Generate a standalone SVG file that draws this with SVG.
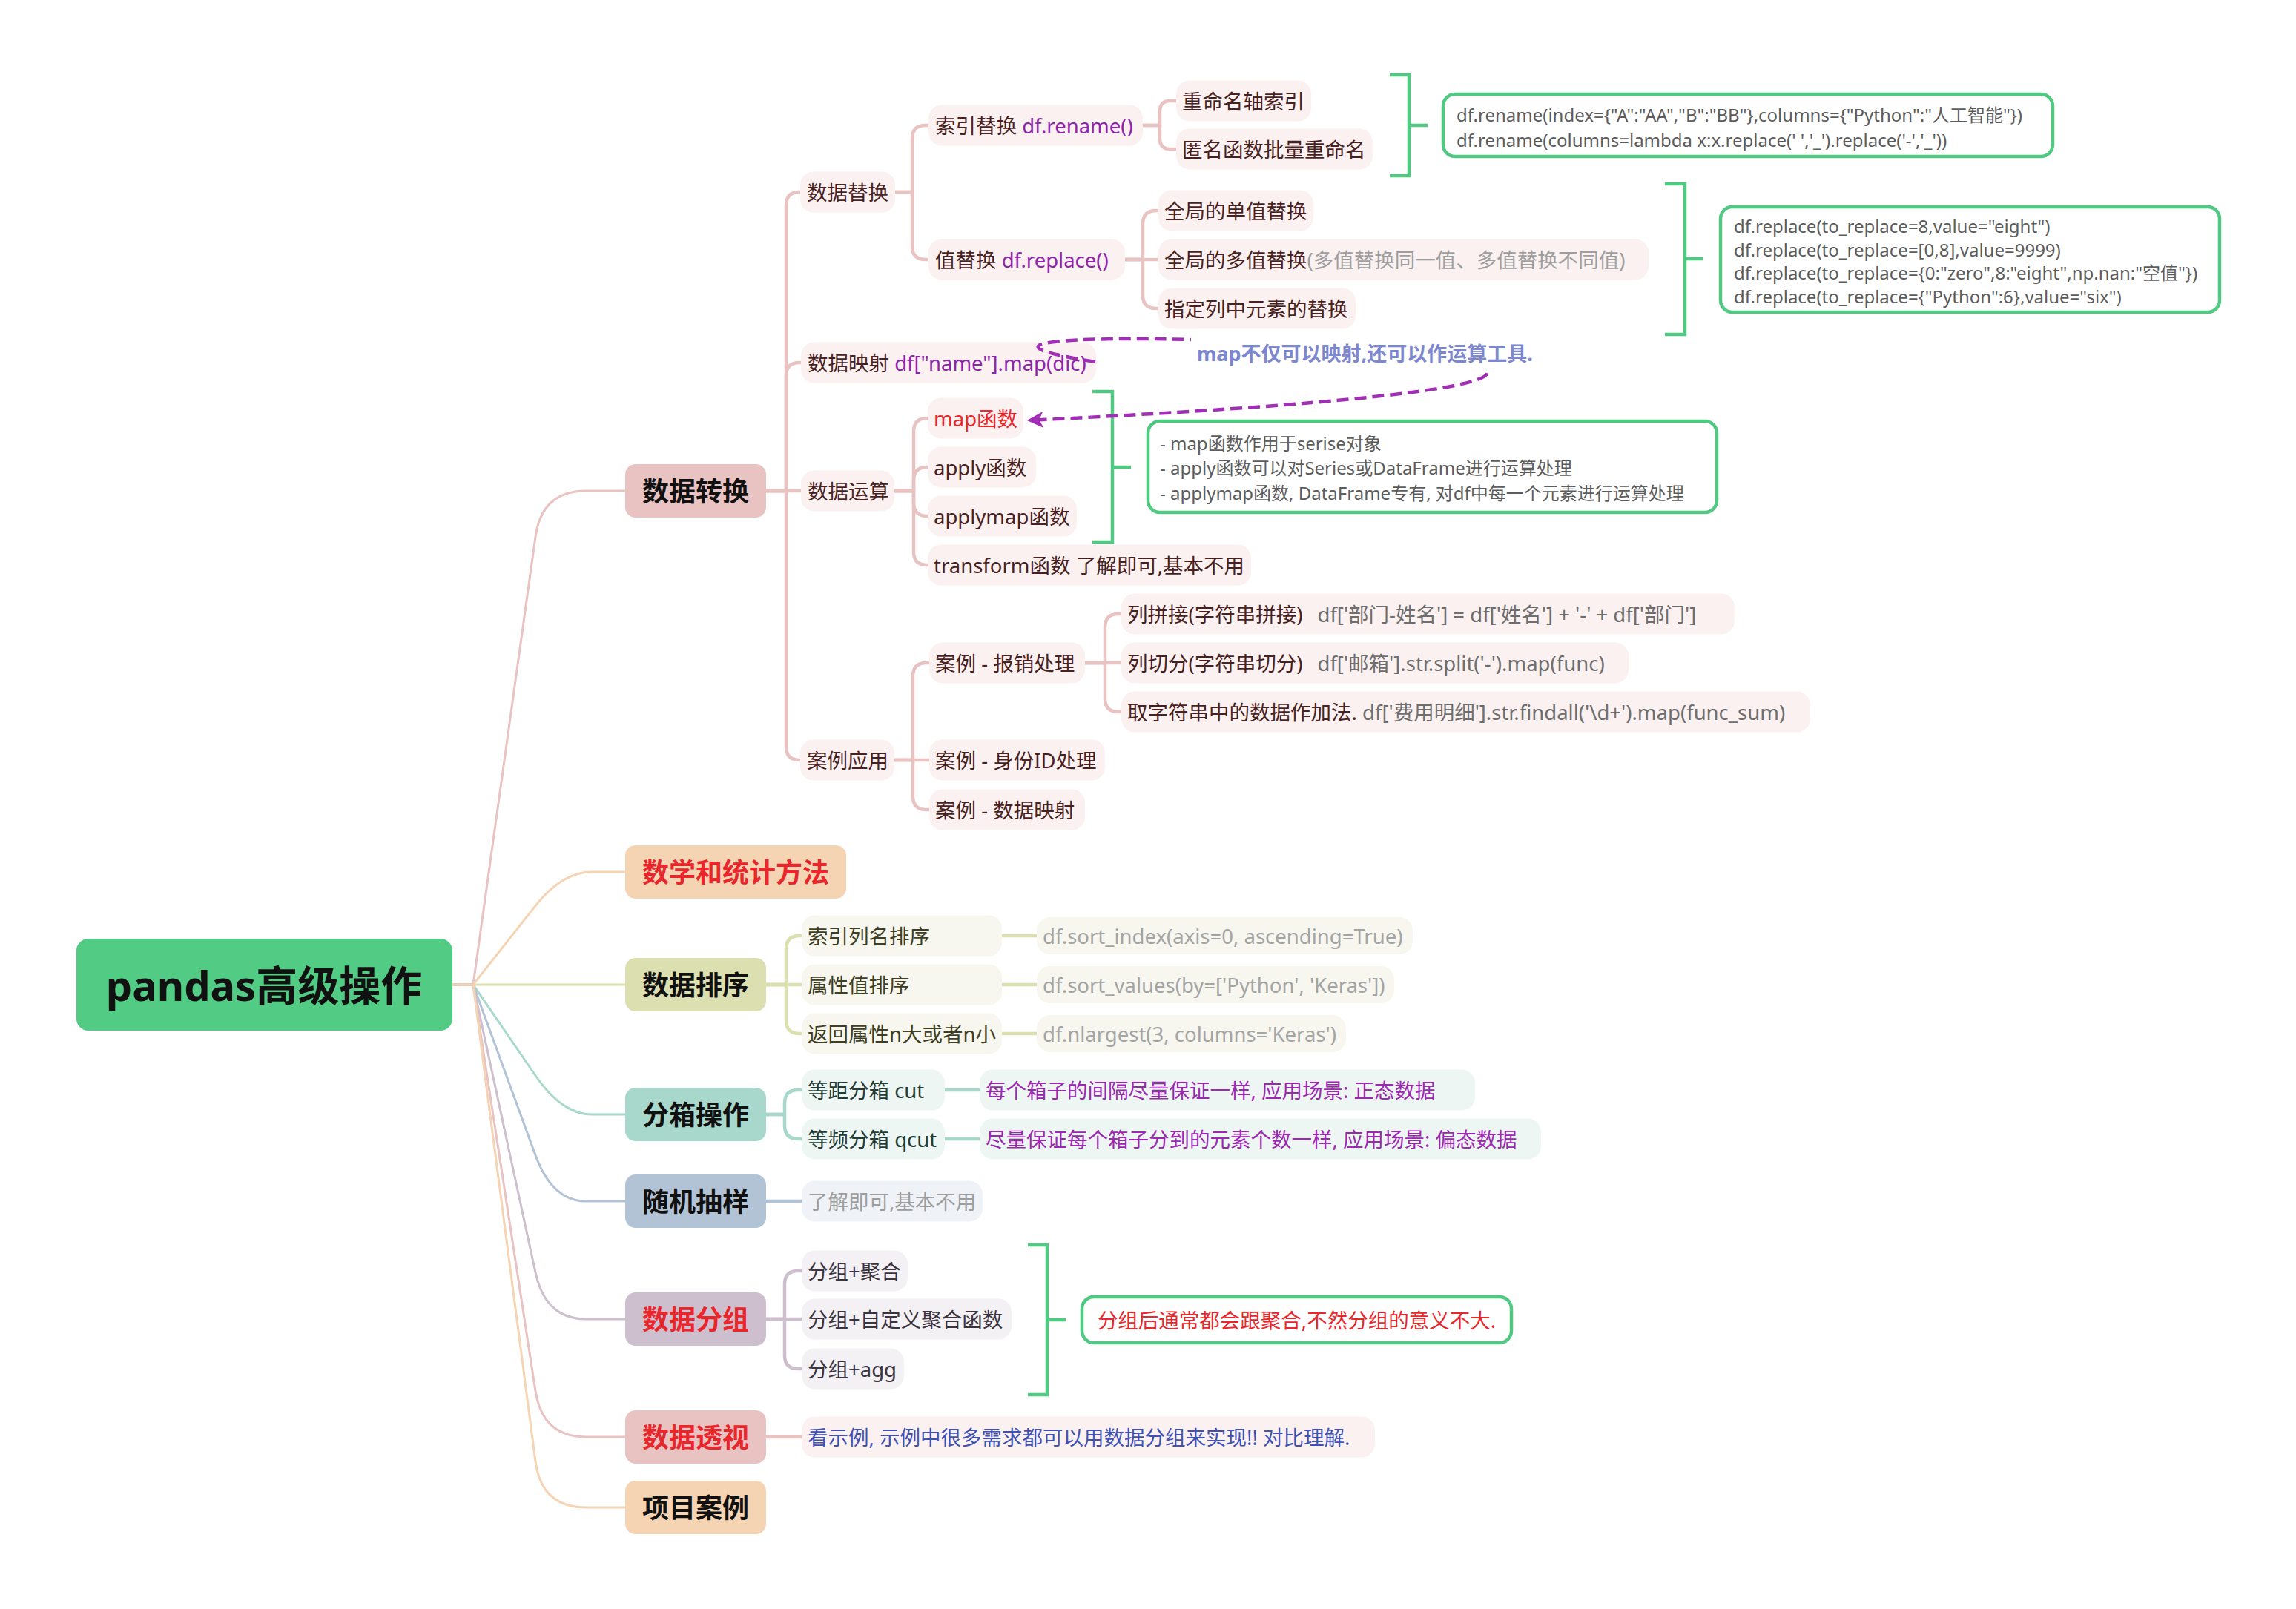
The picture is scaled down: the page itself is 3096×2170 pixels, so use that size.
<svg xmlns="http://www.w3.org/2000/svg" width="3096" height="2170" viewBox="0 0 3096 2170">
<defs>
<style>
text { font-family: "Noto Sans", "Noto Sans CJK SC", sans-serif; dominant-baseline: central; }
.root { font-size: 56px; font-weight: bold; fill: #111; text-anchor: middle; }
.l1 { font-size: 36px; font-weight: bold; fill: #111; text-anchor: middle; }
.red { fill: #E8262B; }
.t { font-size: 27.5px; }
.c { font-size: 24px; fill: #5C5C5C; }
.tp { fill: #4A1F1F; }
.to { fill: #3E3E22; }
.tt { fill: #1F3C35; }
.tl { fill: #3B3340; }
.gray { fill: #9E9E9E; }
.code { fill: #A4A4A4; }
.dk { fill: #6E6E6E; }
.pur { fill: #8E24AA; }
.mag { fill: #9C27B0; }
.blue { fill: #3F51B5; }
.bp { fill: #FAF1F0; }
.bo { fill: #F7F7EF; }
.bt { fill: #EEF6F4; }
.bb { fill: #EFF2F7; }
.bl { fill: #F3F1F4; }
.conn { fill: none; stroke-width: 4.5; stroke-linecap: round; stroke-linejoin: round; }
.rc { fill: none; stroke-width: 3; }
.cp { stroke: #E8C3C2; }
.co { stroke: #DCDFB0; }
.ct { stroke: #A8D8CB; }
.cb { stroke: #B3C3D6; }
.cl { stroke: #CEBFCF; }
.cpe { stroke: #F5D4B3; }
.brk { fill: none; stroke: #52C983; stroke-width: 4.5; }
.call { fill: #FFFFFF; stroke: #52C983; stroke-width: 4.5; }
</style>
<marker id="arr" viewBox="0 0 10 10" refX="9" refY="5" markerWidth="24" markerHeight="22" markerUnits="userSpaceOnUse" orient="auto">
<path d="M0,0 L10,5 L0,10 L2.5,5 z" fill="#A12FB5"/>
</marker>
</defs>

<g id="connectors">
<g id="root-connectors">
<path class="rc cp" d="M 610 1328 H 638 L 722 724 Q 730.6 662 790 662 H 843"/>
<path class="rc cpe" d="M 610 1328 H 638 L 722 1221.6 Q 758 1176 798 1176 H 843"/>
<path class="rc co" d="M 610 1328 H 843"/>
<path class="rc ct" d="M 610 1328 H 638 L 722 1450.5 Q 758 1503 798 1503 H 843"/>
<path class="rc cb" d="M 610 1328 H 638 L 722 1558 Q 744.6 1620 790 1620 H 843"/>
<path class="rc cl" d="M 610 1328 H 638 L 722 1716 Q 735.4 1779 790 1779 H 843"/>
<path class="rc cp" d="M 610 1328 H 638 L 722 1876 Q 731.5 1938 790 1938 H 843"/>
<path class="rc cpe" d="M 610 1328 H 638 L 722 1971 Q 730.1 2033 790 2033 H 843"/>
</g>
<g id="branch-connectors">
<path class="conn cp" d="M 1033 662 H 1060 V 277 Q 1060 259 1078 259 H 1080"/>
<path class="conn cp" d="M 1033 662 H 1060 V 507 Q 1060 489 1078 489 H 1080"/>
<path class="conn cp" d="M 1033 662 H 1080"/>
<path class="conn cp" d="M 1033 662 H 1060 V 1007 Q 1060 1025 1078 1025 H 1080"/>
<path class="conn cp" d="M 1207 259 H 1230 V 187 Q 1230 169 1248 169 H 1252"/>
<path class="conn cp" d="M 1207 259 H 1230 V 332 Q 1230 350 1248 350 H 1252"/>
<path class="conn cp" d="M 1541 169 H 1564 V 150 Q 1564 136 1578 136 H 1586"/>
<path class="conn cp" d="M 1541 169 H 1564 V 187 Q 1564 201 1578 201 H 1586"/>
<path class="conn cp" d="M 1517 350 H 1541 V 302 Q 1541 284 1559 284 H 1562"/>
<path class="conn cp" d="M 1517 350 H 1562"/>
<path class="conn cp" d="M 1517 350 H 1541 V 398 Q 1541 416 1559 416 H 1562"/>
<path class="conn cp" d="M 1206 662 H 1232 V 582 Q 1232 564 1250 564 H 1251"/>
<path class="conn cp" d="M 1206 662 H 1232 V 648 Q 1232 630 1250 630 H 1251"/>
<path class="conn cp" d="M 1206 662 H 1232 V 678 Q 1232 696 1250 696 H 1251"/>
<path class="conn cp" d="M 1206 662 H 1232 V 744 Q 1232 762 1250 762 H 1251"/>
<path class="conn cp" d="M 1206 1025 H 1231 V 912 Q 1231 894 1249 894 H 1253"/>
<path class="conn cp" d="M 1206 1025 H 1253"/>
<path class="conn cp" d="M 1206 1025 H 1231 V 1074 Q 1231 1092 1249 1092 H 1253"/>
<path class="conn cp" d="M 1463 894 H 1490 V 846 Q 1490 828 1508 828 H 1512"/>
<path class="conn cp" d="M 1463 894 H 1512"/>
<path class="conn cp" d="M 1463 894 H 1490 V 942 Q 1490 960 1508 960 H 1512"/>
<path class="conn co" d="M 1033 1328 H 1060 V 1280 Q 1060 1262 1078 1262 H 1081"/>
<path class="conn co" d="M 1033 1328 H 1081"/>
<path class="conn co" d="M 1033 1328 H 1060 V 1376 Q 1060 1394 1078 1394 H 1081"/>
<path class="conn co" d="M 1351 1262 H 1398 M 1351 1328 H 1398 M 1351 1394 H 1398"/>
<path class="conn ct" d="M 1033 1503 H 1058 V 1488 Q 1058 1470 1076 1470 H 1081"/>
<path class="conn ct" d="M 1033 1503 H 1058 V 1518 Q 1058 1536 1076 1536 H 1081"/>
<path class="conn ct" d="M 1274 1470 H 1321 M 1274 1536 H 1321"/>
<path class="conn cb" d="M 1033 1620 H 1081"/>
<path class="conn cl" d="M 1033 1779 H 1058 V 1732 Q 1058 1714 1076 1714 H 1081"/>
<path class="conn cl" d="M 1033 1779 H 1081"/>
<path class="conn cl" d="M 1033 1779 H 1058 V 1828 Q 1058 1846 1076 1846 H 1081"/>
<path class="conn cp" d="M 1033 1938 H 1081"/>
</g>
<g id="brackets">
<path class="brk" d="M 1874 101 H 1900 V 237 H 1874 M 1900 169 H 1925"/>
<path class="brk" d="M 2245 248 H 2272 V 451 H 2245 M 2272 349 H 2296"/>
<path class="brk" d="M 1473 528 H 1500 V 731 H 1473 M 1500 630 H 1525"/>
<path class="brk" d="M 1386 1679 H 1412 V 1881 H 1386 M 1412 1780 H 1437"/>
</g>
</g>

<g id="root">
<rect x="103" y="1266" width="507" height="124" rx="16" fill="#52CB84"/>
<text class="root" x="356" y="1328">pandas高级操作</text>
</g>

<g id="n-shujuzhuanhuan"><rect x="843" y="626" width="190" height="72" rx="14" fill="#E8C3C2"/><text class="l1" x="938" y="662">数据转换</text></g>
<g id="n-shuxue"><rect x="843" y="1140" width="298" height="72" rx="14" fill="#F5D4B3"/><text class="l1 red" x="992" y="1176">数学和统计方法</text></g>
<g id="n-paixu"><rect x="843" y="1292" width="190" height="72" rx="14" fill="#DCDFB0"/><text class="l1" x="938" y="1328">数据排序</text></g>
<g id="n-fenxiang"><rect x="843" y="1467" width="190" height="72" rx="14" fill="#A8D8CB"/><text class="l1" x="938" y="1503">分箱操作</text></g>
<g id="n-chouyang"><rect x="843" y="1584" width="190" height="72" rx="14" fill="#B3C3D6"/><text class="l1" x="938" y="1620">随机抽样</text></g>
<g id="n-fenzu"><rect x="843" y="1743" width="190" height="72" rx="14" fill="#CEBFCF"/><text class="l1 red" x="938" y="1779">数据分组</text></g>
<g id="n-toushi"><rect x="843" y="1902" width="190" height="72" rx="14" fill="#E8C3C2"/><text class="l1 red" x="938" y="1938">数据透视</text></g>
<g id="n-xiangmu"><rect x="843" y="1997" width="190" height="72" rx="14" fill="#F5D4B3"/><text class="l1" x="938" y="2033">项目案例</text></g>

<g id="n-tihuan"><rect class="bp" x="1079" y="231.5" width="128" height="55" rx="18"/><text class="t tp" x="1088" y="259">数据替换</text></g>
<g id="n-yingshe"><rect class="bp" x="1080" y="461.5" width="398" height="55" rx="18"/><text class="t tp" x="1089" y="489">数据映射 <tspan class="pur">df["name"].map(dic)</tspan></text></g>
<g id="n-yunsuan"><rect class="bp" x="1080" y="634.5" width="126" height="55" rx="18"/><text class="t tp" x="1089" y="662">数据运算</text></g>
<g id="n-anli"><rect class="bp" x="1079" y="997.5" width="127" height="55" rx="18"/><text class="t tp" x="1088" y="1025">案例应用</text></g>

<g id="n-rename"><rect class="bp" x="1252" y="141.5" width="289" height="55" rx="18"/><text class="t tp" x="1261" y="169">索引替换 <tspan class="pur">df.rename()</tspan></text></g>
<g id="n-replace"><rect class="bp" x="1252" y="322.5" width="265" height="55" rx="18"/><text class="t tp" x="1261" y="350">值替换 <tspan class="pur">df.replace()</tspan></text></g>
<g id="n-zhousuoyin"><rect class="bp" x="1586" y="108.5" width="182" height="55" rx="18"/><text class="t tp" x="1594" y="136">重命名轴索引</text></g>
<g id="n-niming"><rect class="bp" x="1586" y="173.5" width="265" height="55" rx="18"/><text class="t tp" x="1594" y="201">匿名函数批量重命名</text></g>
<g id="n-danzhi"><rect class="bp" x="1562" y="256.5" width="209" height="55" rx="18"/><text class="t tp" x="1570" y="284">全局的单值替换</text></g>
<g id="n-duozhi"><rect class="bp" x="1562" y="322.5" width="661" height="55" rx="18"/><text class="t tp" x="1570" y="350">全局的多值替换<tspan class="gray">(多值替换同一值、多值替换不同值)</tspan></text></g>
<g id="n-zhiding"><rect class="bp" x="1562" y="388.5" width="266" height="55" rx="18"/><text class="t tp" x="1570" y="416">指定列中元素的替换</text></g>

<g id="n-map"><rect class="bp" x="1251" y="536.5" width="129" height="55" rx="18"/><text class="t red" x="1259" y="564">map函数</text></g>
<g id="n-apply"><rect class="bp" x="1251" y="602.5" width="146" height="55" rx="18"/><text class="t tp" x="1259" y="630">apply函数</text></g>
<g id="n-applymap"><rect class="bp" x="1251" y="668.5" width="201" height="55" rx="18"/><text class="t tp" x="1259" y="696">applymap函数</text></g>
<g id="n-transform"><rect class="bp" x="1251" y="734.5" width="436" height="55" rx="18"/><text class="t tp" x="1259" y="762">transform函数 了解即可,基本不用</text></g>

<g id="n-baoxiao"><rect class="bp" x="1253" y="866.5" width="210" height="55" rx="18"/><text class="t tp" x="1261" y="894">案例 - 报销处理</text></g>
<g id="n-shenfen"><rect class="bp" x="1253" y="997.5" width="237" height="55" rx="18"/><text class="t tp" x="1261" y="1025">案例 - 身份ID处理</text></g>
<g id="n-anliyingshe"><rect class="bp" x="1253" y="1064.5" width="210" height="55" rx="18"/><text class="t tp" x="1261" y="1092">案例 - 数据映射</text></g>
<g id="n-pinjie"><rect class="bp" x="1512" y="800.5" width="827" height="55" rx="18"/><text class="t tp" x="1520" y="828">列拼接(字符串拼接)<tspan class="dk" dx="20">df['部门-姓名'] = df['姓名'] + '-' + df['部门']</tspan></text></g>
<g id="n-qiefen"><rect class="bp" x="1512" y="866.5" width="684" height="55" rx="18"/><text class="t tp" x="1520" y="894">列切分(字符串切分)<tspan class="dk" dx="20">df['邮箱'].str.split('-').map(func)</tspan></text></g>
<g id="n-jiafa"><rect class="bp" x="1512" y="932.5" width="929" height="55" rx="18"/><text class="t tp" x="1520" y="960">取字符串中的数据作加法. <tspan class="dk">df['费用明细'].str.findall('\d+').map(func_sum)</tspan></text></g>

<g id="n-suoyinpx"><rect class="bo" x="1081" y="1234.5" width="270" height="55" rx="18"/><text class="t to" x="1089" y="1262">索引列名排序</text></g>
<g id="n-shuxingpx"><rect class="bo" x="1081" y="1300.5" width="270" height="55" rx="18"/><text class="t to" x="1089" y="1328">属性值排序</text></g>
<g id="n-nda"><rect class="bo" x="1081" y="1366.5" width="270" height="55" rx="18"/><text class="t to" x="1089" y="1394">返回属性n大或者n小</text></g>
<g id="n-sortindex"><rect class="bo" x="1398" y="1237" width="507" height="50" rx="18"/><text class="t code" x="1406" y="1262">df.sort_index(axis=0, ascending=True)</text></g>
<g id="n-sortvalues"><rect class="bo" x="1398" y="1303" width="482" height="50" rx="18"/><text class="t code" x="1406" y="1328">df.sort_values(by=['Python', 'Keras'])</text></g>
<g id="n-nlargest"><rect class="bo" x="1398" y="1369" width="417" height="50" rx="18"/><text class="t code" x="1406" y="1394">df.nlargest(3, columns='Keras')</text></g>

<g id="n-cut"><rect class="bt" x="1081" y="1442.5" width="193" height="55" rx="18"/><text class="t tt" x="1089" y="1470">等距分箱 cut</text></g>
<g id="n-qcut"><rect class="bt" x="1081" y="1508.5" width="193" height="55" rx="18"/><text class="t tt" x="1089" y="1536">等频分箱 qcut</text></g>
<g id="n-cutdesc"><rect class="bt" x="1321" y="1442.5" width="668" height="55" rx="18"/><text class="t mag" x="1329" y="1470">每个箱子的间隔尽量保证一样, 应用场景: 正态数据</text></g>
<g id="n-qcutdesc"><rect class="bt" x="1321" y="1508.5" width="757" height="55" rx="18"/><text class="t mag" x="1329" y="1536">尽量保证每个箱子分到的元素个数一样, 应用场景: 偏态数据</text></g>

<g id="n-liaojie"><rect class="bb" x="1081" y="1592.5" width="244" height="55" rx="18"/><text class="t gray" x="1089" y="1620">了解即可,基本不用</text></g>

<g id="n-juhe"><rect class="bl" x="1081" y="1686.5" width="143" height="55" rx="18"/><text class="t tl" x="1089" y="1714">分组+聚合</text></g>
<g id="n-zidingyi"><rect class="bl" x="1081" y="1751.5" width="283" height="55" rx="18"/><text class="t tl" x="1089" y="1779">分组+自定义聚合函数</text></g>
<g id="n-agg"><rect class="bl" x="1081" y="1818.5" width="138" height="55" rx="18"/><text class="t tl" x="1089" y="1846">分组+agg</text></g>

<g id="n-shili"><rect class="bp" x="1081" y="1910.5" width="773" height="55" rx="18"/><text class="t blue" x="1089" y="1938">看示例, 示例中很多需求都可以用数据分组来实现!! 对比理解.</text></g>

<g id="callout-rename"><rect class="call" x="1946" y="127" width="822" height="84" rx="16"/>
<text class="c" x="1964" y="154">df.rename(index={"A":"AA","B":"BB"},columns={"Python":"人工智能"})</text>
<text class="c" x="1964" y="188">df.rename(columns=lambda x:x.replace(' ','_').replace('-','_'))</text></g>
<g id="callout-replace"><rect class="call" x="2320" y="279" width="673" height="142" rx="16"/>
<text class="c" x="2338" y="304">df.replace(to_replace=8,value="eight")</text>
<text class="c" x="2338" y="336">df.replace(to_replace=[0,8],value=9999)</text>
<text class="c" x="2338" y="367">df.replace(to_replace={0:"zero",8:"eight",np.nan:"空值"})</text>
<text class="c" x="2338" y="399">df.replace(to_replace={"Python":6},value="six")</text></g>
<g id="callout-map"><rect class="call" x="1548" y="568" width="767" height="123" rx="16"/>
<text class="c" x="1564" y="597">- map函数作用于serise对象</text>
<text class="c" x="1564" y="630">- apply函数可以对Series或DataFrame进行运算处理</text>
<text class="c" x="1564" y="664">- applymap函数, DataFrame专有, 对df中每一个元素进行运算处理</text></g>
<g id="callout-group"><rect class="call" x="1459" y="1749" width="579" height="62" rx="16"/>
<text class="t red" x="1748.5" y="1780" text-anchor="middle">分组后通常都会跟聚合,不然分组的意义不大.</text></g>

<g id="relationship">
<path d="M 1477 488 C 1000 412 2950 490 1387 567" fill="none" stroke="#A12FB5" stroke-width="4.5" stroke-dasharray="16 8" marker-end="url(#arr)"/>
<rect x="1606" y="450" width="446" height="50" fill="#FFFFFF"/>
<text x="1614" y="476" style="font-size:27px;font-weight:bold;fill:#7D87CF">map不仅可以映射,还可以作运算工具.</text>
</g>
</svg>
